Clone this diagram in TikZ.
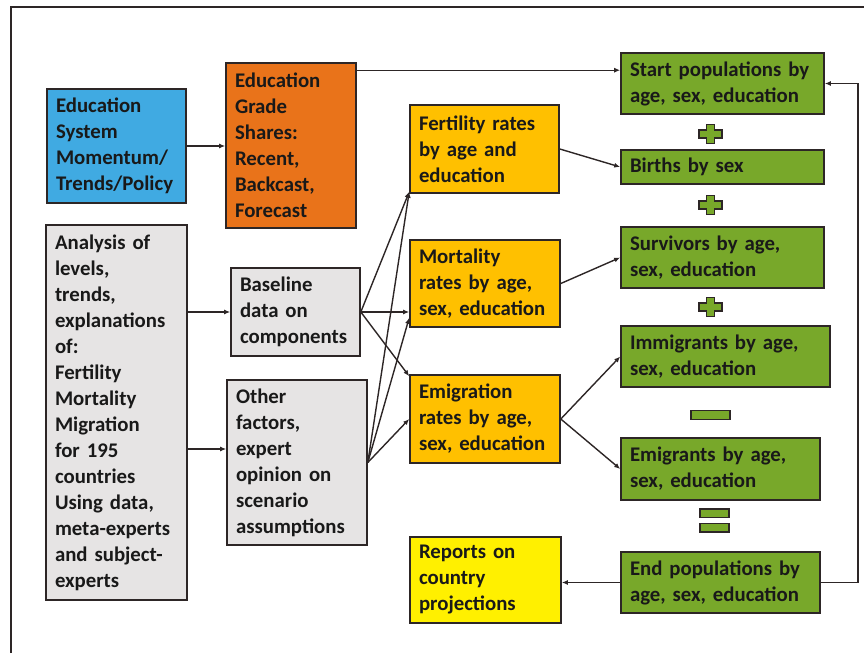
\documentclass[tikz,border=0pt]{standalone}
\usepackage{fontspec}
\setmainfont{Carlito}
\usepackage{xcolor}
\usetikzlibrary{arrows.meta, positioning}

\definecolor{edublue}{RGB}{64,170,226}
\definecolor{gradeorange}{RGB}{233,115,26}
\definecolor{inputgrey}{RGB}{230,228,228}
\definecolor{rategold}{RGB}{255,192,0}
\definecolor{reportyellow}{RGB}{255,240,0}
\definecolor{popgreen}{RGB}{120,168,42}
\definecolor{edgegrey}{RGB}{45,38,38}

\tikzset{
  box/.style={draw=edgegrey, line width=1.6pt, align=left, inner xsep=9pt, inner ysep=0pt,
    text=black!90, font=\bfseries\fontsize{20.8}{26}\selectfont},
  arr/.style={-{Latex[length=6pt,width=5pt]}, line width=1.4pt, draw=edgegrey},
  opfill/.style={fill=popgreen, draw=edgegrey, line width=1.5pt},
  plussign/.pic={
    \filldraw[opfill] (-4,-9.5) -- (4,-9.5) -- (4,-3.8) -- (11.5,-3.8) -- (11.5,3.8)
      -- (4,3.8) -- (4,9.5) -- (-4,9.5) -- (-4,3.8) -- (-11.5,3.8) -- (-11.5,-3.8)
      -- (-4,-3.8) -- cycle;
  }
}

\begin{document}
\begin{tikzpicture}[x=1pt, y=-1pt]
  \useasboundingbox (0,0) rectangle (864,653);
  % frame
  \draw[line width=2pt, edgegrey] (11,653) -- (11,7) -- (864,7);

  % inputs
  \node[box, fill=edublue, text width=121pt, minimum height=114pt] (edu) at (116.5,146) {Education\\System\\Momentum/\\Trends/Policy};
  \node[box, fill=gradeorange, text width=112pt, minimum height=165pt] (grade) at (291,145.5) {Education\\Grade\\Shares:\\Recent,\\Backcast,\\Forecast};
  \node[box, fill=inputgrey, text width=123pt, minimum height=375pt] (analysis) at (116.5,412.5) {Analysis of\\levels,\\trends,\\explanations\\of:\\Fertility\\Mortality\\Migration\\for 195\\countries\\Using data,\\meta-experts\\and subject-\\experts};
  \node[box, fill=inputgrey, text width=111pt, minimum height=88pt] (base) at (295.5,312) {Baseline\\data on\\components};
  \node[box, fill=inputgrey, text width=122pt, minimum height=165pt] (other) at (297,462.5) {Other\\factors,\\expert\\opinion on\\scenario\\assumptions};

  % rates
  \node[box, fill=rategold, text width=131pt, minimum height=88pt] (fert) at (484.5,149) {Fertility rates\\by age and\\education};
  \node[box, fill=rategold, text width=132pt, minimum height=87pt] (mort) at (485,283.5) {Mortality\\rates by age,\\sex, education};
  \node[box, fill=rategold, text width=132pt, minimum height=88pt] (emig) at (485,419) {Emigration\\rates by age,\\sex, education};
  \node[box, fill=reportyellow, text width=133pt, minimum height=86pt] (rep) at (485.5,580) {Reports on\\country\\projections};

  % populations
  \node[box, fill=popgreen, text width=185pt, minimum height=61pt] (start) at (722.5,83.5) {Start populations by\\age, sex, education};
  \node[box, fill=popgreen, text width=185pt, minimum height=34pt] (births) at (722.5,167) {Births by sex};
  \node[box, fill=popgreen, text width=185pt, minimum height=61pt] (surv) at (722.5,257.5) {Survivors by age,\\sex, education};
  \node[box, fill=popgreen, text width=191pt, minimum height=61pt] (immi) at (725.5,356.5) {Immigrants by age,\\sex, education};
  \node[box, fill=popgreen, text width=181pt, minimum height=62pt] (emi) at (720.5,469) {Emigrants by age,\\sex, education};
  \node[box, fill=popgreen, text width=181pt, minimum height=61pt] (end) at (720.5,582.5) {End populations by\\age, sex, education};

  % operators
  \pic at (710.5,134) {plussign};
  \pic at (710.5,205) {plussign};
  \pic at (710.5,307) {plussign};
  \node[opfill, minimum width=39pt, minimum height=9pt, inner sep=0pt] (minus) at (710.5,415) {};
  \node[opfill, minimum width=29pt, minimum height=8.5pt, inner sep=0pt] (eqtop) at (714.5,513) {};
  \node[opfill, minimum width=29pt, minimum height=8.5pt, inner sep=0pt] (eqbot) at (714.5,527.5) {};

  % connectors
  \draw[arr] (edu.east) -- (edu.east -| grade.west);
  \draw[arr] ([yshift=-8pt]grade.north east) -- ([yshift=-8pt]grade.north east -| start.west);
  \draw[arr] (base.west -| analysis.east) -- (base.west);
  \draw[arr] ([yshift=13.5pt]other.west -| analysis.east) -- ([yshift=13.5pt]other.west);
  \draw[arr] (base.east) -- ([yshift=2pt]fert.south west);
  \draw[arr] (base.east) -- (base.east -| mort.west);
  \draw[arr] (base.east) -- ([yshift=-2pt]emig.north west);
  \draw[arr] (other.east) -- ([yshift=2pt]fert.south west);
  \draw[arr] (other.east) -- ([yshift=10pt]mort.south west);
  \draw[arr] (other.east) -- (emig.west);
  \draw[arr] (fert.east) -- (births.west);
  \draw[arr] (mort.east) -- (surv.west);
  \draw[arr] (emig.east) -- (immi.west);
  \draw[arr] (emig.east) -- (emi.west);
  \draw[arr] (end.west) -- (end.west -| rep.east);
  \draw[arr] (end.east) -- ++(37,0) |- (start.east);
\end{tikzpicture}
\end{document}
